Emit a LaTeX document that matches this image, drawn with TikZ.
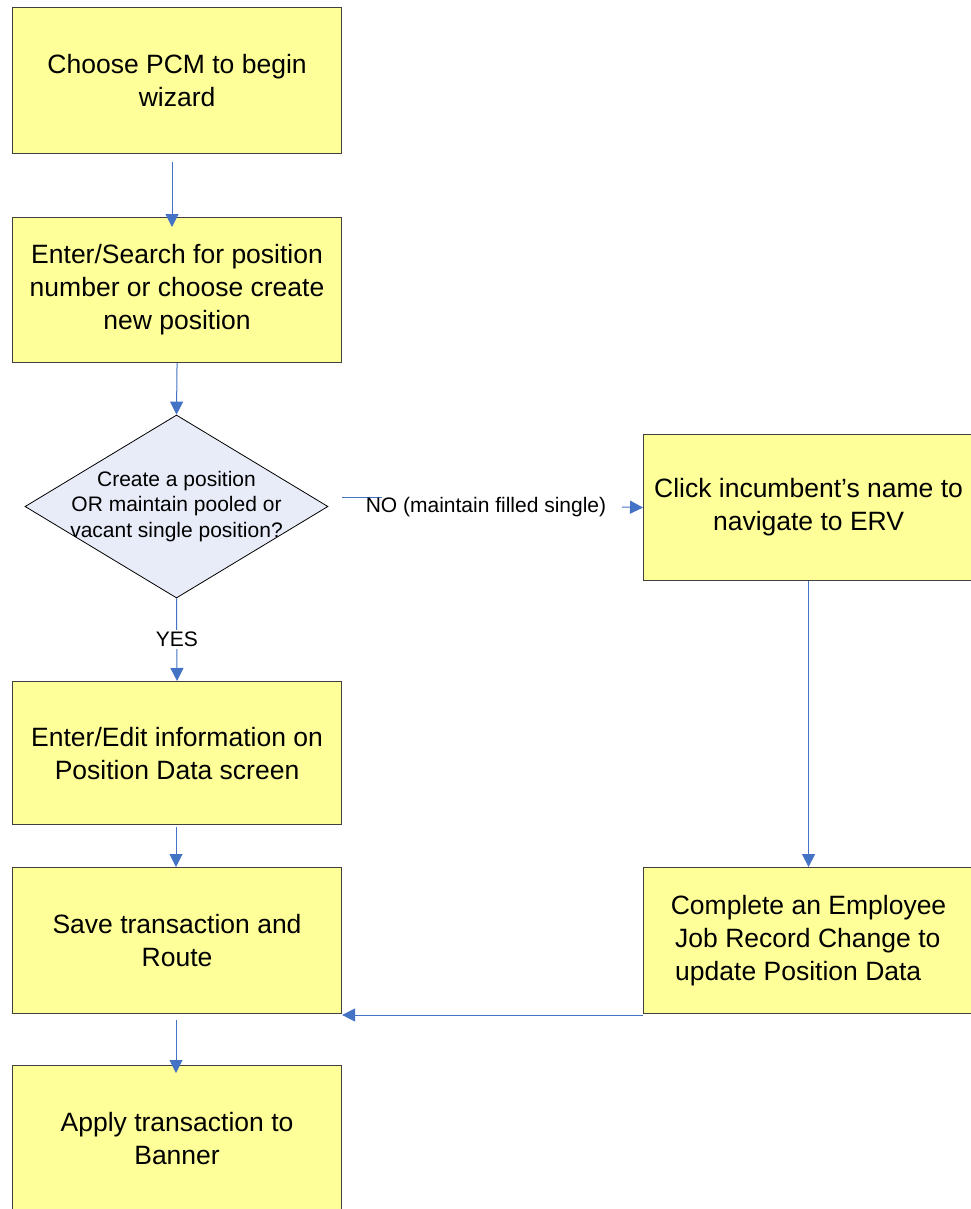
\documentclass[tikz,border=0pt]{standalone}
\usepackage{fontspec}
\setmainfont{Liberation Sans}
\usetikzlibrary{arrows.meta,shapes.geometric}
\definecolor{boxfill}{HTML}{FFFF99}
\definecolor{boxline}{HTML}{404040}
\definecolor{dfill}{HTML}{E8ECF8}
\definecolor{arr}{HTML}{4472C4}
\begin{document}
\begin{tikzpicture}[x=1pt,y=-1pt,
  stepbox/.style={draw=boxline,line width=1.1pt,fill=boxfill,minimum width=329pt,
    minimum height=146pt,inner sep=0pt,anchor=north west,align=center,
    font=\fontsize{26.5}{33}\selectfont},
  small/.style={font=\fontsize{21}{25.5}\selectfont},
  conn/.style={draw=arr,line width=1pt,-{Triangle[length=13pt,width=13pt]}},
  plain/.style={draw=arr,line width=1pt}]
\useasboundingbox (0,0) rectangle (970,1209);
\fill[white] (0,0) rectangle (970,1209);
% boxes
\node[stepbox] (b1) at (12,7) {Choose PCM to begin\\wizard};
\node[stepbox,minimum height=145pt] (b2) at (12,217) {Enter/Search for position\\number or choose create\\new position};
\node[diamond,draw=black,line width=0.8pt,fill=dfill,minimum width=303pt,minimum height=183pt,inner sep=0pt] (d) at (176.5,506.5) {};
\node[small,align=center] (dt) at (d.center) {Create a position\\OR maintain pooled or\\vacant single position?};
\node[stepbox,minimum height=143pt] (b3) at (12,681) {Enter/Edit information on\\Position Data screen};
\node[stepbox] (b4) at (12,867) {Save transaction and\\Route};
\node[stepbox] (b5) at (12,1065) {Apply transaction to\\Banner};
\node[stepbox,minimum width=330pt] (r1) at (643,434) {Click incumbent’s name to\\navigate to ERV};
\node[stepbox,minimum width=330pt,align=left] (r2) at (643,867) {Complete an Employee\\\,Job Record Change to\\\,update Position Data};
% connectors
\coordinate (a1) at (172,162);
\draw[conn,shorten >=-10pt] (a1) -- (a1 |- b2.north);
\draw[conn] (b2.south) -- (d.north);
\draw[conn] (d.south) -- node[small,fill=white,inner sep=2pt] (yes) {YES} (b3.north);
\coordinate (a4) at (176,827);
\draw[conn] (a4) -- (a4 |- b4.north);
\coordinate (a5) at (176,1020);
\draw[conn,shorten >=-8pt] (a5) -- (a5 |- b5.north);
\coordinate (n1) at (342,497);
\coordinate (n2) at (382,497);
\draw[plain] (n1) -- (n2);
\node[small] (no) at (486,507) {NO (maintain filled single)};
\coordinate (n3) at (622,507);
\draw[conn] (n3) -- (r1.west);
\draw[conn] (r1.south) -- (r2.north);
\coordinate (rb) at (643,1015);
\draw[conn] (rb) -- (b4.east |- rb);
\end{tikzpicture}
\end{document}
